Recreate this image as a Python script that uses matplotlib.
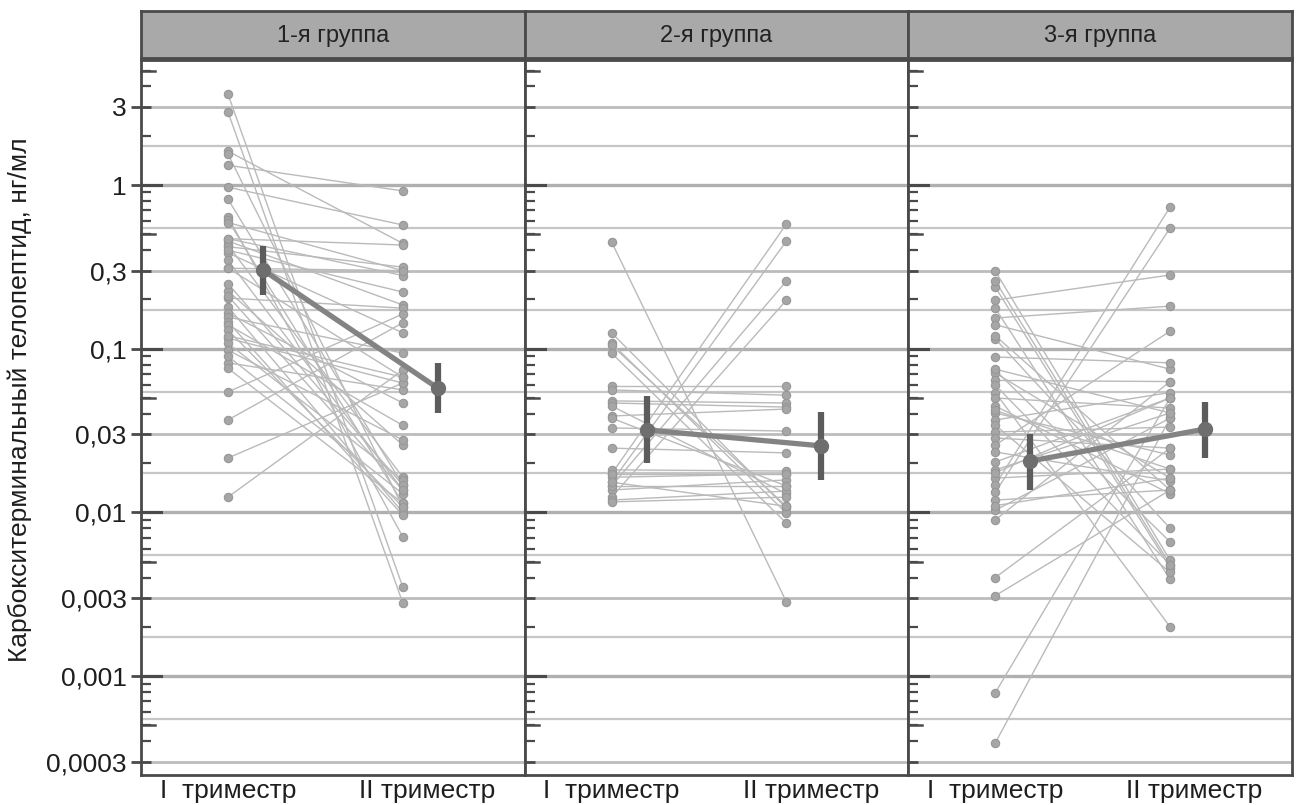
import numpy as np
import matplotlib
matplotlib.use("Agg")
import matplotlib.pyplot as plt
from matplotlib.ticker import FixedLocator, NullFormatter
from matplotlib.transforms import blended_transform_factory

plt.rcParams["font.family"] = ["Liberation Sans", "DejaVu Sans"]

groups = ["1-я группа", "2-я группа", "3-я группа"]
periods = ["I  триместр", "II триместр"]
y_label = "Карбокситерминальный телопептид, нг/мл"

# paired values per patient, ng/ml (first -> second trimester)
g1_first = [3.6, 2.8, 1.61, 1.55, 1.32, 0.97, 0.82, 0.64, 0.61, 0.59, 0.47, 0.455,
            0.43, 0.385, 0.348, 0.311, 0.225, 0.204, 0.18, 0.165, 0.156, 0.146,
            0.14, 0.116, 0.108, 0.098, 0.082, 0.076, 0.0544, 0.0367, 0.0215, 0.0124,
            0.47, 0.42, 0.40, 0.31, 0.25, 0.13, 0.12, 0.09, 0.21]
g1_second = [0.0035, 0.0028, 0.44, 0.0108, 0.92, 0.57, 0.0147, 0.0071, 0.0114, 0.30,
             0.28, 0.185, 0.0164, 0.125, 0.0137, 0.067, 0.0258, 0.177, 0.0100, 0.0466,
             0.094, 0.0096, 0.034, 0.0617, 0.0158, 0.0277, 0.056, 0.0114, 0.163, 0.144,
             0.0617, 0.074, 0.43, 0.315, 0.222, 0.30, 0.0147, 0.0108, 0.067, 0.013, 0.0137]

g2_first = [0.449, 0.125, 0.108, 0.105, 0.094, 0.059, 0.056, 0.048, 0.0466, 0.0447,
            0.0388, 0.0377, 0.0328, 0.0247, 0.0182, 0.0172, 0.0164, 0.0153, 0.0145,
            0.0137, 0.0124, 0.0119, 0.0116, 0.0172, 0.0145, 0.0153]
g2_second = [0.00284, 0.0106, 0.0099, 0.0109, 0.0086, 0.059, 0.052, 0.0466, 0.044,
             0.0130, 0.0428, 0.0145, 0.0314, 0.0231, 0.0179, 0.578, 0.0172, 0.455,
             0.259, 0.0158, 0.198, 0.0135, 0.0124, 0.0172, 0.0145, 0.0109]

g3_first = [0.298, 0.238, 0.198, 0.177, 0.154, 0.140, 0.115, 0.089, 0.074, 0.071,
            0.064, 0.060, 0.054, 0.050, 0.0447, 0.0405, 0.0367, 0.0342, 0.031, 0.0285,
            0.0258, 0.0234, 0.0203, 0.0182, 0.0162, 0.0147, 0.0133, 0.0119, 0.0103,
            0.0090, 0.0040, 0.0031, 0.00079, 0.00039, 0.26, 0.12, 0.042, 0.0175,
            0.011, 0.075]
g3_second = [0.0051, 0.0046, 0.282, 0.0039, 0.182, 0.075, 0.0080, 0.082, 0.0066,
             0.0162, 0.063, 0.0048, 0.0020, 0.0434, 0.0130, 0.0224, 0.054, 0.0043,
             0.0332, 0.0247, 0.128, 0.0156, 0.050, 0.0405, 0.0184, 0.734, 0.546,
             0.0137, 0.0377, 0.063, 0.0247, 0.0137, 0.050, 0.0377, 0.0048, 0.0137,
             0.0184, 0.050, 0.0162, 0.0405]

# group means with interval bounds
mean_first = [0.303, 0.0319, 0.0206]
mean_second = [0.0575, 0.0255, 0.0323]
lo_first = [0.213, 0.0200, 0.0137]
hi_first = [0.424, 0.0514, 0.0301]
lo_second = [0.0405, 0.0158, 0.0215]
hi_second = [0.082, 0.041, 0.0472]

tick_vals = [0.0003, 0.001, 0.003, 0.01, 0.03, 0.1, 0.3, 1, 3]
tick_labels = ["0,0003", "0,001", "0,003", "0,01", "0,03", "0,1", "0,3", "1", "3"]

firsts = [g1_first, g2_first, g3_first]
seconds = [g1_second, g2_second, g3_second]

W, H = 1296, 805
fig = plt.figure(figsize=(W / 100, H / 100), dpi=100)

left_px, right_px = 141, 1292
top_px, bottom_px = 60, 775
pw_px = (right_px - left_px) / 3
ymin, ymax = 10 ** -3.604, 10 ** 0.7636

spine_col = "#4a4a4a"
text_col = "#1e1e1e"
decades = [0.001, 0.01, 0.1, 1]
fives = [0.0005, 0.005, 0.05, 0.5, 5]
minor_vals = [m * 10.0 ** k for k in range(-4, 1) for m in (2, 4, 5, 6, 7, 8, 9)]
minor_vals = [v for v in minor_vals if ymin < v < ymax]
mid_grid = [np.sqrt(a * b) for a, b in zip(tick_vals[:-1], tick_vals[1:])]

for i in range(3):
    x0 = (left_px + i * pw_px) / W
    ax = fig.add_axes([x0, 1 - bottom_px / H, pw_px / W, (bottom_px - top_px) / H])
    ax.set_yscale("log")
    ax.set_ylim(ymin, ymax)
    ax.set_xlim(-0.497, 1.697)

    for v in tick_vals:
        dec = v in decades
        ax.axhline(v, color="#b0b0b0" if dec else "#bcbcbc", lw=2.4 if dec else 2.0, zorder=0)
    for v in mid_grid:
        ax.axhline(v, color="#c6c6c6", lw=1.6, zorder=0)

    first, second = firsts[i], seconds[i]
    for a, b in zip(first, second):
        ax.plot([0, 1], [a, b], color="#bababa", lw=1.0, zorder=2)
    ax.plot(np.zeros(len(first)), first, "o", ms=6, color="#a6a6a6",
            mec="#979797", mew=0.8, zorder=3, ls="none")
    ax.plot(np.ones(len(second)), second, "o", ms=6, color="#a6a6a6",
            mec="#979797", mew=0.8, zorder=3, ls="none")

    mx = [0.2, 1.2]
    ax.plot(mx, [mean_first[i], mean_second[i]], color="#838383", lw=3.8,
            solid_capstyle="butt", zorder=4)
    ax.vlines(mx, [lo_first[i], lo_second[i]], [hi_first[i], hi_second[i]],
              color="#5c5c5c", lw=4.5, zorder=5)
    ax.plot(mx, [mean_first[i], mean_second[i]], "o", ms=10, color="#6e6e6e",
            zorder=6, ls="none")

    ax.set_yticks(tick_vals)
    ax.yaxis.set_minor_locator(FixedLocator(minor_vals))
    ax.yaxis.set_minor_formatter(NullFormatter())
    if i == 0:
        ax.set_yticklabels(tick_labels)
        ax.tick_params(axis="y", which="major", direction="inout", length=15,
                       width=2, color=spine_col, labelsize=19, pad=3,
                       labelcolor=text_col)
    else:
        ax.tick_params(axis="y", which="major", direction="in", length=7,
                       width=2, color=spine_col, labelleft=False)
    ax.tick_params(axis="y", which="minor", direction="in", length=7,
                   width=1.6, color=spine_col)

    # longer inner ticks at decades and fives
    trans = blended_transform_factory(ax.transAxes, ax.transData)
    for v in decades:
        ax.plot([0, 20 / pw_px], [v, v], transform=trans, color=spine_col,
                lw=2.2, clip_on=False, zorder=7)
    for v in fives:
        if ymin < v < ymax:
            ax.plot([0, 14 / pw_px], [v, v], transform=trans, color=spine_col,
                    lw=1.8, clip_on=False, zorder=7)

    ax.set_xticks([0, 1.14])
    ax.set_xticklabels(periods)
    ax.tick_params(axis="x", length=0, labelsize=19, pad=3, labelcolor=text_col)

    for sp in ax.spines.values():
        sp.set_color(spine_col)
        sp.set_linewidth(2)

    # group strip on top of the panel
    sax = fig.add_axes([x0, 1 - 58 / H, pw_px / W, 47 / H])
    sax.set_facecolor("#a9a9a9")
    sax.set_xticks([])
    sax.set_yticks([])
    for sp in sax.spines.values():
        sp.set_color(spine_col)
        sp.set_linewidth(2)
    sax.text(0.5, 0.47, groups[i], ha="center", va="center", fontsize=17,
             color="#222222", transform=sax.transAxes)

fig.text(7 / W, 1 - 400 / H, y_label, rotation=90, ha="left", va="center",
         fontsize=19, color=text_col)

fig.savefig("out.png", dpi=100)
